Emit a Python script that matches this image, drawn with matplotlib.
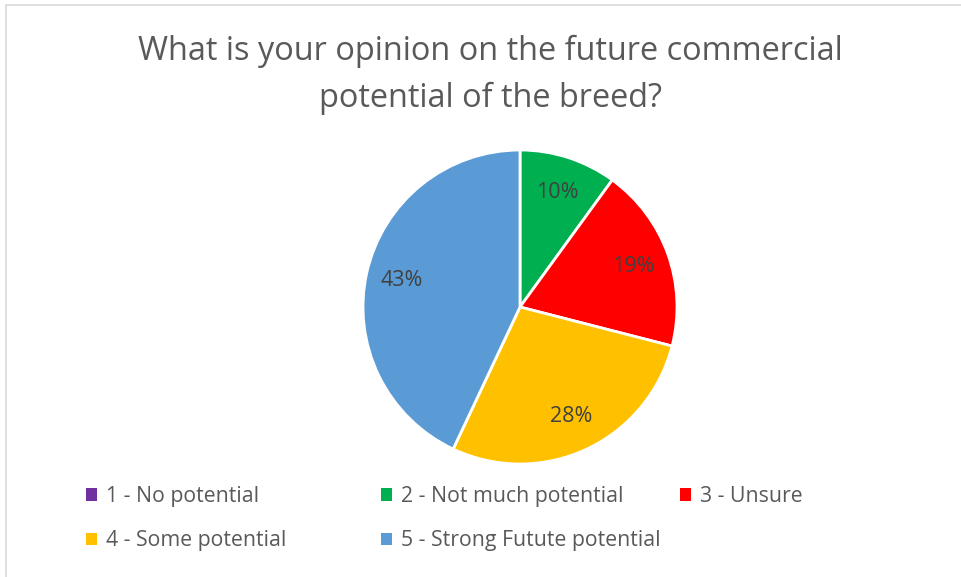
import matplotlib
matplotlib.use("Agg")
import matplotlib.pyplot as plt
from matplotlib.patches import Patch, Rectangle

categories = ["1 - No potential", "2 - Not much potential", "3 - Unsure",
              "4 - Some potential", "5 - Strong Futute potential"]
values = [0, 10, 19, 28, 43]
colors = ["#7030A0", "#00B050", "#FF0000", "#FFC000", "#5B9BD5"]
title = "What is your opinion on the future commercial\npotential of the breed?"

plt.rcParams['font.family'] = ['Open Sans', 'DejaVu Sans']
W, H = 961, 577
fig = plt.figure(figsize=(W / 100, H / 100), dpi=100)
fig.patch.set_facecolor("white")

# chart border (top/left visible)
fig.patches.append(Rectangle((5.5 / W, -0.05), 1.2, (H - 4.5) / H + 0.05,
                             transform=fig.transFigure, fill=False,
                             edgecolor="#D9D9D9", linewidth=1.2))

cx, cy, R = 520, 307, 157
half = R * 1.25
ax = fig.add_axes([(cx - half) / W, (H - cy - half) / H, 2 * half / W, 2 * half / H])

def fmt(p):
    return f"{p:.0f}%" if p > 0.5 else ""

wedges, texts, autotexts = ax.pie(values, colors=colors, startangle=90, counterclock=False,
                                  autopct=fmt, pctdistance=0.77,
                                  wedgeprops=dict(edgecolor="white", linewidth=2),
                                  textprops=dict(color="#404040", fontsize=15.5))
ax.set_aspect("equal")

fig.text(490 / W, 1 - 75 / H, title, ha="center", va="center", fontsize=23.4,
         color="#595959", linespacing=1.55)

handles = [Patch(facecolor=c, edgecolor="none") for c in colors]
cols = [(0, 3), (1, 4), (2,)]
xs = [86, 381, 680]
for col, x in zip(cols, xs):
    leg = fig.legend([handles[i] for i in col], [categories[i] for i in col],
                     loc="upper left", bbox_to_anchor=(x / W, 1 - 486 / H),
                     frameon=False, fontsize=15.3, handlelength=0.5, handleheight=0.5,
                     handletextpad=0.45, labelspacing=1.1, borderpad=0, borderaxespad=0,
                     labelcolor="#595959")

fig.savefig("out.png", dpi=100, facecolor="white")
